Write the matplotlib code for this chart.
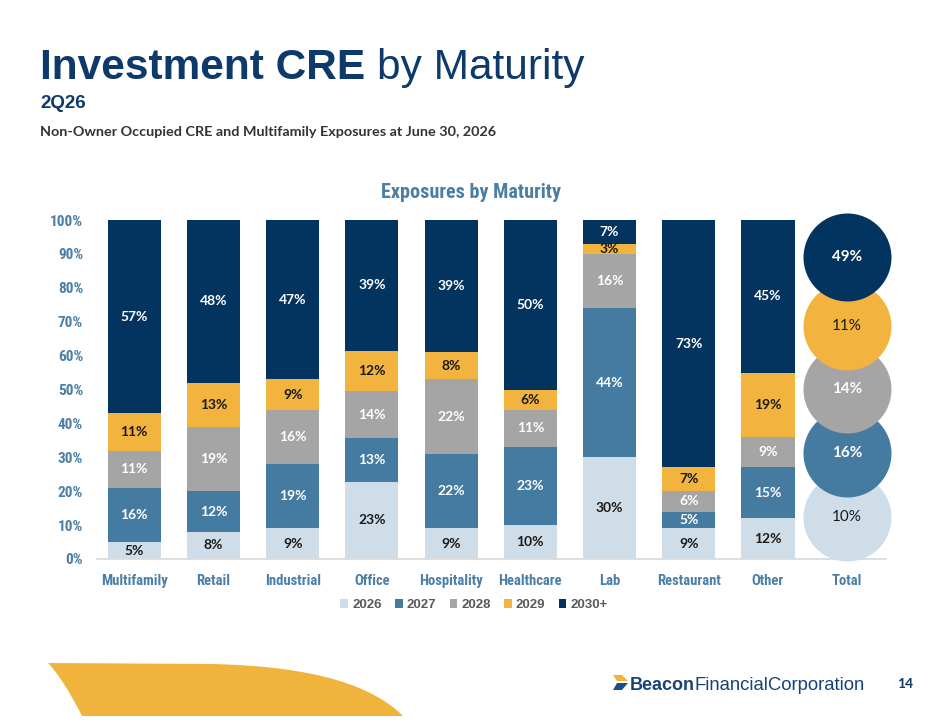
import matplotlib
matplotlib.use("Agg")
import matplotlib.pyplot as plt
import numpy as np
from matplotlib import font_manager
from matplotlib.patches import Polygon, PathPatch
from matplotlib.path import Path

# data
categories = ["Multifamily", "Retail", "Industrial", "Office", "Hospitality",
              "Healthcare", "Lab", "Restaurant", "Other"]
years = ["2026", "2027", "2028", "2029", "2030+"]
v2026 = [5, 8, 9, 23, 9, 10, 30, 9, 12]
v2027 = [16, 12, 19, 13, 22, 23, 44, 5, 15]
v2028 = [11, 19, 16, 14, 22, 11, 16, 6, 9]
v2029 = [11, 13, 9, 12, 8, 6, 3, 7, 19]
v2030 = [57, 48, 47, 39, 39, 50, 7, 73, 45]
total = [10, 16, 14, 11, 49]

colors = ["#CFDDE8", "#467BA1", "#A5A5A5", "#F2B43E", "#03345F"]
label_colors = ["#1a1a1a", "white", "white", "#1a1a1a", "white"]
tick_blue = "#4A7EA6"
navy = "#0D3A6B"

fonts = font_manager.fontManager.ttflist
avail = {f.name for f in fonts}


def as_weight(w):
    if isinstance(w, str):
        return font_manager.weight_dict.get(w, 400)
    return w


# look for a narrow face that also has a bold weight (Arial Narrow look)
bold_narrow = {f.name for f in fonts
               if ("Narrow" in f.name or "Condensed" in f.name)
               and as_weight(f.weight) >= 600}
NARROW = None
for pref in ["Liberation Sans Narrow", "Roboto Condensed", "Open Sans Condensed",
             "Noto Sans Condensed", "DejaVu Sans Condensed"]:
    if pref in bold_narrow:
        NARROW = pref
        break
if NARROW is None and bold_narrow:
    NARROW = sorted(bold_narrow)[0]
if NARROW is None:
    NARROW = "Roboto" if "Roboto" in avail else "Liberation Sans"
CAL = "Lato" if "Lato" in avail else "DejaVu Sans"
ARIAL = "Liberation Sans"

W, H = 941, 727
fig = plt.figure(figsize=(W / 100, H / 100), dpi=100)


def px(x, y):
    return (x / W, 1 - y / H)


# titles
t1 = fig.text(*px(40, 79), "Investment CRE ", fontsize=30.5, fontweight="bold",
              color=navy, family=ARIAL, va="baseline")
fig.canvas.draw()
x_end = t1.get_window_extent().x1
fig.text(x_end / W, 1 - 79 / H, "by Maturity", fontsize=30.5, color=navy,
         family=ARIAL, va="baseline")
fig.text(*px(40, 108), "2Q26", fontsize=13.5, fontweight="bold", color=navy,
         family=ARIAL, va="baseline")
fig.text(*px(40, 136), "Non-Owner Occupied CRE and Multifamily Exposures at June 30, 2026",
         fontsize=10.4, fontweight="bold", color="#333333", family=CAL, va="baseline")

# chart
ax = fig.add_axes([97 / W, 1 - 559 / H, 789 / W, 339 / H])
series = [v2026, v2027, v2028, v2029, v2030]
data = np.array(series, dtype=float)
norm = data / data.sum(axis=0) * 100
x = np.arange(len(categories))
bottom = np.zeros(len(categories))
for i, yr in enumerate(years):
    ax.bar(x, norm[i], 0.67, bottom=bottom, color=colors[i], label=yr,
           edgecolor="none", zorder=2)
    for j in range(len(categories)):
        ax.text(x[j], bottom[j] + norm[i][j] / 2, f"{series[i][j]}%",
                ha="center", va="center", fontsize=10, fontweight="bold",
                color=label_colors[i], family=CAL, zorder=3)
    bottom += norm[i]

# total bubbles, stacked upward
circle_y = [12.4, 31.3, 50.1, 68.7, 89.1]
tot_x = len(categories)
for i, val in enumerate(total):
    ax.scatter([tot_x], [circle_y[i]], s=(88 * 0.72) ** 2, color=colors[i],
               zorder=4 + i, clip_on=False, linewidths=0)
    bold = "bold" if label_colors[i] == "white" else "normal"
    ax.text(tot_x, circle_y[i], f"{val}%", ha="center", va="center",
            fontsize=11, fontweight=bold, color=label_colors[i], family=CAL,
            zorder=10 + i)

ax.set_xlim(-0.47, 9.49)
ax.set_ylim(0, 100)
ax.set_yticks(np.arange(0, 101, 10))
ax.set_yticklabels([f"{t}%" for t in range(0, 101, 10)])
ax.set_xticks(np.arange(len(categories) + 1))
ax.set_xticklabels(categories + ["Total"])
for lab in ax.get_yticklabels() + ax.get_xticklabels():
    lab.set_family(NARROW)
    lab.set_fontweight("bold")
    lab.set_color(tick_blue)
    lab.set_fontsize(10.5)
for lab in ax.get_yticklabels():
    lab.set_fontsize(11)
ax.tick_params(axis="y", length=0, pad=10)
ax.tick_params(axis="x", length=0, pad=11)
for s in ["top", "right", "left"]:
    ax.spines[s].set_visible(False)
ax.spines["bottom"].set_color("#D9D9D9")
ax.spines["bottom"].set_linewidth(1.2)

fig.text(*px(471, 193), "Exposures by Maturity", ha="center", va="center",
         fontsize=14.5, fontweight="bold", color=tick_blue, family=NARROW)

handles, labels = ax.get_legend_handles_labels()
leg = fig.legend(handles, labels, loc="center", bbox_to_anchor=px(474, 605),
                 ncol=5, frameon=False, handlelength=0.6, handleheight=0.6,
                 handletextpad=0.3, columnspacing=1.0,
                 prop={"family": ARIAL, "weight": "bold", "size": 9.5})
for t in leg.get_texts():
    t.set_color("#595959")

# footer swoosh
verts = [px(48, 663), px(210, 664), px(320, 666), px(375, 688), px(403, 716),
         px(82, 716), px(70, 692), px(57, 672), px(48, 663)]
codes = [Path.MOVETO, Path.LINETO, Path.CURVE4, Path.CURVE4, Path.CURVE4,
         Path.LINETO, Path.CURVE4, Path.CURVE4, Path.CURVE4]
fig.patches.append(PathPatch(Path(verts, codes), facecolor="#F0B43C",
                             edgecolor="none", transform=fig.transFigure))

# logo
fig.patches.append(Polygon([px(613, 675), px(622, 675), px(628, 681), px(617, 681)],
                           closed=True, facecolor="#F0B43C", edgecolor="none",
                           transform=fig.transFigure))
fig.patches.append(Polygon([px(617, 683), px(628, 683), px(622, 690), px(613, 690)],
                           closed=True, facecolor="#1B4F8A", edgecolor="none",
                           transform=fig.transFigure))
fig.text(*px(630, 690), "Beacon", fontsize=13, fontweight="bold", color="#16427A",
         family=ARIAL, va="baseline")
fig.text(*px(694, 690), "FinancialCorporation", fontsize=13.3, color="#16427A",
         family=ARIAL, va="baseline")
fig.text(*px(897, 688), "14", fontsize=10, fontweight="bold", color=navy,
         family=CAL, va="baseline")

fig.savefig("out.png", dpi=100)
